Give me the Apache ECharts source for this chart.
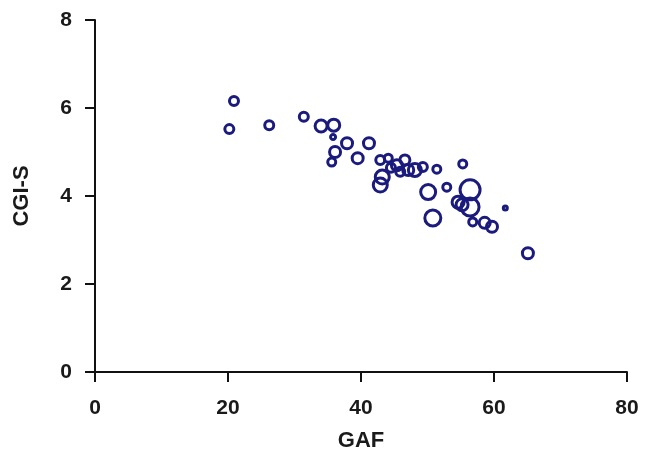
<!DOCTYPE html>
<html>
<head>
<meta charset="utf-8">
<script src="https://cdn.jsdelivr.net/npm/echarts@6/dist/echarts.min.js"></script>
<style>
    html, body { margin: 0; padding: 0; background: #fff; }
    #chart { width: 645px; height: 463px; }
</style>
</head>
<body>
<div id="chart"></div>
<script>
// GAF score vs CGI-S, bubble = relative weight
var gaf = [20.2, 20.9, 26.2, 31.4, 34.0, 35.9, 35.8, 37.9, 36.1, 35.6,
    41.2, 39.5, 42.9, 43.2, 42.9, 44.1, 45.4, 46.6, 47.1, 48.1,
    49.3, 51.4, 55.3, 50.1, 52.9, 50.8, 54.6, 56.4, 56.4, 55.2,
    61.7, 56.8, 58.6, 59.7, 65.1, 44.5, 45.9];
var cgis = [5.52, 6.16, 5.61, 5.80, 5.59, 5.61, 5.34, 5.20, 5.00, 4.77,
    5.20, 4.86, 4.82, 4.43, 4.25, 4.86, 4.70, 4.82, 4.59, 4.59,
    4.66, 4.61, 4.73, 4.09, 4.20, 3.50, 3.86, 4.14, 3.75, 3.80,
    3.73, 3.41, 3.39, 3.30, 2.70, 4.64, 4.55];
var weight = [12, 12, 12, 12, 15, 15, 8, 14, 14, 11,
    14, 14, 12, 17, 17, 11, 14, 13, 14, 16,
    12, 11, 11, 18, 11, 19, 15, 23, 21, 15,
    7, 11, 14, 14, 14, 12, 12];
var xTicks = [0, 20, 40, 60, 80];
var yTicks = [0, 2, 4, 6, 8];

var points = gaf.map(function(x, i) {
    return [x, cgis[i], weight[i]];
});

var navy = '#1b1b7d';
var txt = '#1a1a1a';
var font = 'Liberation Sans';

var chart = echarts.init(document.getElementById('chart'), null, { renderer: 'canvas' });
chart.setOption({
    animation: false,
    backgroundColor: '#fff',
    grid: { left: 95, right: 18, top: 20, bottom: 91 },
    xAxis: {
        type: 'value',
        min: xTicks[0],
        max: xTicks[xTicks.length - 1],
        interval: 20,
        name: 'GAF',
        nameLocation: 'middle',
        nameGap: 58,
        nameTextStyle: { fontFamily: font, fontWeight: 'bold', fontSize: 22, color: txt },
        splitLine: { show: false },
        axisLine: { onZero: false, lineStyle: { color: '#111', width: 2 } },
        axisTick: { show: true, length: 10, lineStyle: { color: '#111', width: 2 } },
        axisLabel: { margin: 26, fontFamily: font, fontWeight: 'bold', fontSize: 21, color: txt }
    },
    yAxis: {
        type: 'value',
        min: yTicks[0],
        max: yTicks[yTicks.length - 1],
        interval: 2,
        name: 'CGI-S',
        nameLocation: 'middle',
        nameGap: 62,
        nameTextStyle: { fontFamily: font, fontWeight: 'bold', fontSize: 22, color: txt },
        splitLine: { show: false },
        axisLine: { show: true, onZero: false, lineStyle: { color: '#111', width: 2 } },
        axisTick: { show: true, length: 10, lineStyle: { color: '#111', width: 2 } },
        axisLabel: { margin: 23, fontFamily: font, fontWeight: 'bold', fontSize: 21, color: txt }
    },
    series: [{
        type: 'scatter',
        data: points,
        symbol: 'circle',
        symbolSize: function(d) { return d[2] - 3; },
        itemStyle: { color: 'rgba(255,255,255,0)', borderColor: navy, borderWidth: 3, opacity: 1 }
    }]
});
</script>
</body>
</html>
